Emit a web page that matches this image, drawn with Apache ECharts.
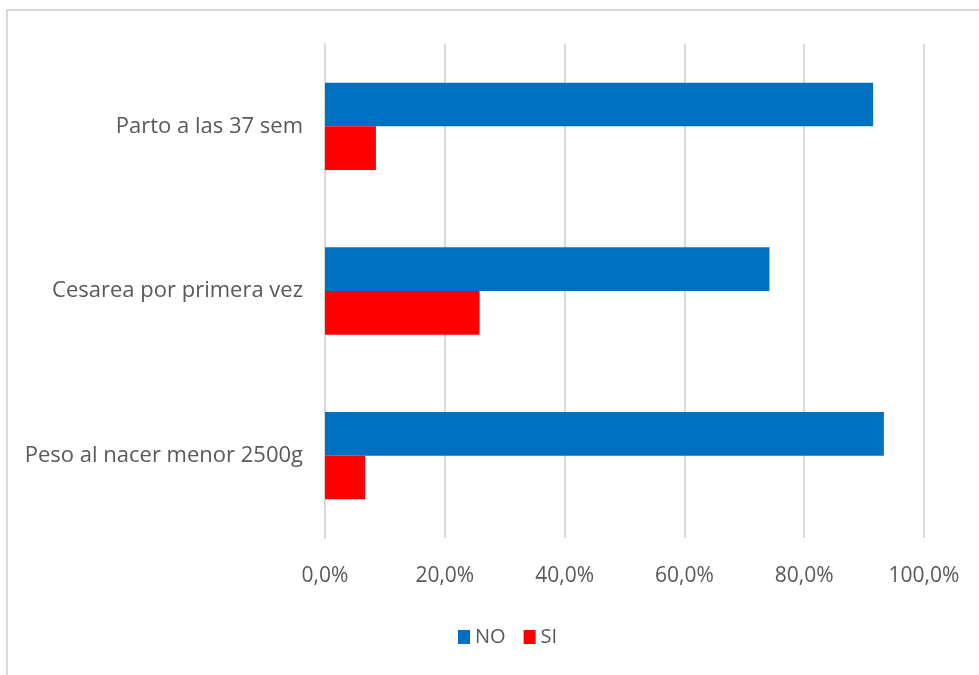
<!DOCTYPE html>
<html>
<head>
<meta charset="utf-8">
<script src="https://cdn.jsdelivr.net/npm/echarts@6/dist/echarts.min.js"></script>
<style>
html,body{margin:0;padding:0;background:#fff;}
#chart{width:979px;height:675px;}
</style>
</head>
<body>
<div id="chart"></div>
<script>
const categories = ['Peso al nacer menor 2500g', 'Cesarea por primera vez', 'Parto a las 37 sem'];
const seriesNames = ['NO', 'SI'];
const valuesNO = [93.3, 74.2, 91.5];
const valuesSI = [6.7, 25.8, 8.5];
const xTicks = [0, 20, 40, 60, 80, 100];

const FONT = 'Open Sans';
const chart = echarts.init(document.getElementById('chart'), null, {renderer: 'canvas'});
chart.setOption({
  animation: false,
  backgroundColor: '#fff',
  graphic: [{
    type: 'rect',
    shape: {x: 7, y: 10, width: 1000, height: 700},
    style: {fill: null, stroke: '#d9d9d9', lineWidth: 2},
    silent: true
  }],
  grid: {left: 325, right: 55, top: 44, bottom: 137, containLabel: false},
  legend: {
    data: seriesNames,
    top: 622,
    left: 453,
    itemWidth: 12,
    itemHeight: 14,
    itemGap: 18,
    icon: 'rect',
    textStyle: {color: '#595959', fontSize: 20, fontFamily: FONT}
  },
  xAxis: {
    type: 'value',
    min: xTicks[0],
    max: xTicks[xTicks.length - 1],
    interval: 20,
    axisLine: {show: false},
    axisTick: {show: false},
    splitLine: {lineStyle: {color: '#d9d9d9', width: 2}},
    axisLabel: {
      color: '#595959', fontSize: 21, fontFamily: FONT, margin: 28,
      formatter: v => v.toFixed(1).replace('.', ',') + '%'
    }
  },
  yAxis: {
    type: 'category',
    data: categories,
    axisLine: {show: true, lineStyle: {color: '#d9d9d9', width: 2}},
    axisTick: {show: false},
    axisLabel: {color: '#595959', fontSize: 22, fontFamily: FONT, margin: 22}
  },
  series: [
    {name: 'NO', type: 'bar', data: valuesNO, itemStyle: {color: '#0070C0'}, barGap: '0%', barCategoryGap: '47%'},
    {name: 'SI', type: 'bar', data: valuesSI, itemStyle: {color: '#FF0000'}, barGap: '0%', barCategoryGap: '47%'}
  ]
});
</script>
</body>
</html>
